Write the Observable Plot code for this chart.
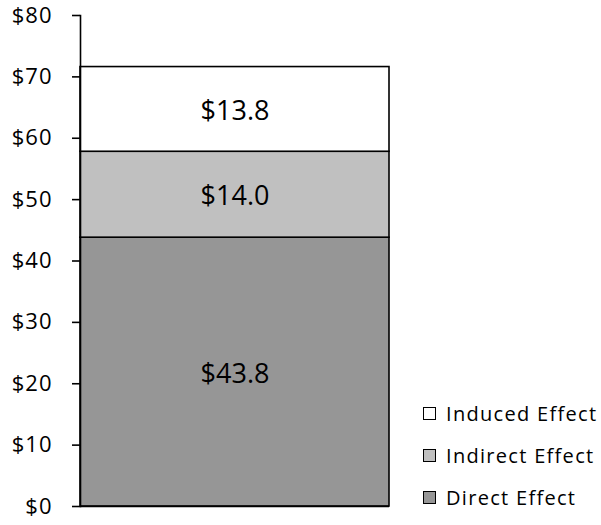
<!DOCTYPE html>
<html>
<head>
<meta charset="utf-8">
<script src="https://cdn.jsdelivr.net/npm/d3@7"></script>
<script src="https://cdn.jsdelivr.net/npm/@observablehq/plot@0.6"></script>
<style>
  body { margin: 0; background: #fff; }
  #wrap { position: relative; width: 601px; height: 525px; font-family: "Open Sans", sans-serif; }
  #wrap svg g[aria-label="y-axis tick label"] text { letter-spacing: 1px; }
  #legend { position: absolute; left: 423px; top: 392px; font-size: 20px; letter-spacing: 1.3px; color: #000; }
  #legend .row { display: flex; align-items: center; height: 42px; white-space: nowrap; }
  #legend .sw { width: 11px; height: 11px; border: 1px solid #000; margin-right: 10px; flex: none; }
</style>
</head>
<body>
<div id="wrap"><div id="legend"></div></div>
<script>
// Economic impact, in millions of dollars, by effect type
const category = "Total";
const series = ["Direct Effect", "Indirect Effect", "Induced Effect"];
const values = [43.8, 14.0, 13.8];
const fills = ["#969696", "#c0c0c0", "#ffffff"];
const yTicks = [0, 10, 20, 30, 40, 50, 60, 70, 80];

const data = series.map((s, i) => ({cat: category, series: s, value: values[i]}));
const money = d => "$" + d;

const chart = Plot.plot({
  width: 601,
  height: 525,
  marginLeft: 80,
  marginRight: 212,
  marginTop: 15,
  marginBottom: 19,
  style: {fontFamily: "'Open Sans', sans-serif", fontSize: "22px", color: "#000", background: "transparent"},
  x: {domain: [category], padding: 0, axis: null},
  y: {domain: [0, 80], ticks: yTicks, tickFormat: money},
  color: {domain: series, range: fills},
  marks: [
    Plot.barY(data, {x: "cat", y: "value", fill: "series", order: null, stroke: "#000", strokeWidth: 1.6}),
    Plot.text(data, Plot.stackY({x: "cat", y: "value", z: "series", order: null,
      text: d => "$" + d.value.toFixed(1), fontSize: 27, dy: 2, fill: "#000"})),
    Plot.axisY({ticks: yTicks, tickFormat: money, tickSize: 8, tickPadding: 20, fontSize: 22, label: null, strokeWidth: 1.6}),
    Plot.frame({anchor: "left", strokeWidth: 1.6}),
    Plot.ruleY([0], {strokeWidth: 1.6})
  ]
});
document.getElementById("wrap").prepend(chart);

// Legend, listed top to bottom in stack order (top of bar first)
const legend = d3.select("#legend");
series.slice().reverse().forEach(s => {
  const row = legend.append("div").attr("class", "row");
  row.append("div").attr("class", "sw").style("background", fills[series.indexOf(s)]);
  row.append("span").text(s);
});
</script>
</body>
</html>
